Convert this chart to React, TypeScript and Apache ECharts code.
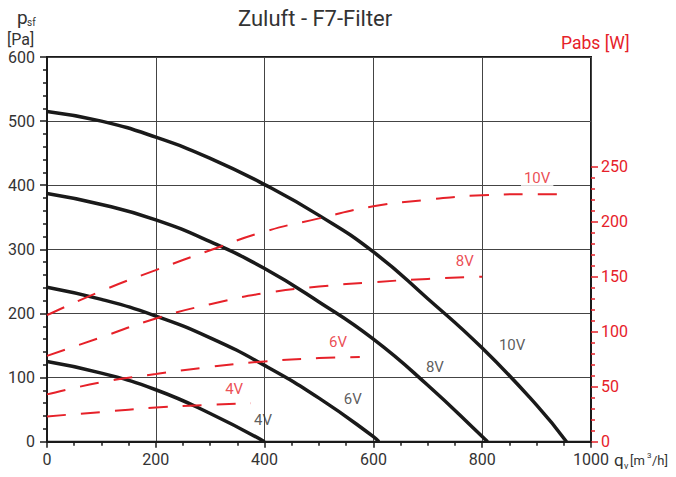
import React, { useEffect, useRef } from "react";
import * as echarts from "echarts";

// Flow rates (m³/h) and static pressure (Pa) per fan voltage
const q10V = [0, 100, 200, 300, 400, 500, 600, 700, 800, 900, 955];
const p10V = [515, 500, 475, 442, 401, 353, 296, 223, 146, 57, 0];
const q8V = [0, 100, 200, 300, 400, 500, 600, 700, 800, 810];
const p8V = [387, 370, 346, 312, 270, 218, 160, 88, 8, 0];
const q6V = [0, 100, 200, 300, 400, 500, 600, 610];
const p6V = [241, 222, 196, 162, 119, 68, 8, 0];
const q4V = [0, 100, 200, 300, 400];
const p4V = [125, 107, 81, 44, 0];

// Absorbed power (W) per fan voltage
const qW10V = [0, 100, 200, 300, 400, 500, 600, 700, 800, 900, 950];
const w10V = [115, 137, 156, 174, 191, 203, 214, 220, 224, 225, 225];
const qW8V = [0, 100, 200, 300, 400, 500, 600, 700, 800];
const w8V = [78, 95, 112, 125, 135, 141, 145, 148, 150];
const qW6V = [0, 100, 200, 300, 400, 500, 575];
const w6V = [43, 54, 61.5, 68, 73, 76, 77];
const qW4V = [0, 100, 200, 300, 375];
const w4V = [23, 27, 31, 33.5, 35];

// Curve label anchors (data units)
const pressureLabels = [
  { name: "4V", q: 397, v: 34 },
  { name: "6V", q: 562, v: 67 },
  { name: "8V", q: 713, v: 117 },
  { name: "10V", q: 855, v: 151 },
];
const powerLabels = [
  { name: "4V", q: 344, v: 48 },
  { name: "6V", q: 535, v: 90.6 },
  { name: "8V", q: 768, v: 164 },
  { name: "10V", q: 901, v: 240 },
];

const title = "Zuluft - F7-Filter";

const RED = "#e62129";
const BLACK = "#1a1a1a";
const FONT = "Roboto";

const zip = (xs: number[], ys: number[]) => xs.map((x, i) => [x, ys[i]]);

export default function App() {
  const ref = useRef<HTMLDivElement>(null);
  useEffect(() => {
    if (!ref.current) return;
    const chart = echarts.init(ref.current, undefined, { renderer: "svg" });

    const pressureLine = (name: string, q: number[], p: number[]) => ({
      type: "line",
      name,
      xAxisIndex: 0,
      yAxisIndex: 0,
      data: zip(q, p),
      smooth: true,
      symbol: "none",
      lineStyle: { color: BLACK, width: 3.5 },
      z: 3,
    });
    const powerLine = (name: string, q: number[], w: number[]) => ({
      type: "line",
      name,
      xAxisIndex: 1,
      yAxisIndex: 1,
      data: zip(q, w),
      smooth: true,
      symbol: "none",
      lineStyle: { color: RED, width: 2, type: [19, 15] },
      z: 4,
    });

    chart.setOption({
      animation: false,
      textStyle: { fontFamily: FONT },
      title: {
        text: title,
        left: 233,
        top: 2,
        textStyle: { fontSize: 22, fontWeight: "normal", color: "#333", fontFamily: FONT },
      },
      grid: [
        {
          left: 47,
          right: 85,
          top: 57,
          bottom: 35.3,
          show: true,
          borderColor: BLACK,
          borderWidth: 2,
        },
        { left: 47, right: 85, top: 166.7, bottom: 35.3 },
      ],
      xAxis: [
        {
          type: "value",
          gridIndex: 0,
          min: 0,
          max: 1000,
          interval: 200,
          axisLine: { show: true, onZero: false, lineStyle: { color: BLACK, width: 2 } },
          axisTick: { show: true, length: 6, lineStyle: { color: BLACK, width: 1.5 } },
          minorTick: { show: true, splitNumber: 4, length: 4, lineStyle: { color: BLACK, width: 1.5 } },
          axisLabel: {
            fontSize: 16,
            color: "#333",
            margin: 10,
            fontFamily: FONT,
            formatter: (v: number) => String(v),
          },
          splitLine: { show: true, lineStyle: { color: "#444", width: 1 } },
        },
        {
          type: "value",
          gridIndex: 1,
          min: 0,
          max: 1000,
          show: false,
        },
      ],
      yAxis: [
        {
          type: "value",
          gridIndex: 0,
          position: "left",
          min: 0,
          max: 600,
          interval: 100,
          axisLine: { show: true, onZero: false, lineStyle: { color: BLACK, width: 2 } },
          axisTick: { show: true, length: 7, lineStyle: { color: BLACK, width: 1.5 } },
          minorTick: { show: true, splitNumber: 5, length: 4, lineStyle: { color: BLACK, width: 1.5 } },
          axisLabel: { fontSize: 16, color: "#333", margin: 12, fontFamily: FONT },
          splitLine: { show: true, lineStyle: { color: "#444", width: 1 } },
        },
        {
          type: "value",
          gridIndex: 1,
          position: "right",
          min: 0,
          max: 250,
          interval: 50,
          axisLine: { show: true, onZero: false, lineStyle: { color: BLACK, width: 2 } },
          axisTick: { show: true, length: 7, lineStyle: { color: RED, width: 1.5 } },
          minorTick: { show: true, splitNumber: 5, length: 4, lineStyle: { color: RED, width: 1.5 } },
          axisLabel: { fontSize: 16, color: RED, margin: 10, fontFamily: FONT },
          splitLine: { show: false },
        },
      ],
      series: [
        pressureLine("10V", q10V, p10V),
        pressureLine("8V", q8V, p8V),
        pressureLine("6V", q6V, p6V),
        pressureLine("4V", q4V, p4V),
        powerLine("P10V", qW10V, w10V),
        powerLine("P8V", qW8V, w8V),
        powerLine("P6V", qW6V, w6V),
        powerLine("P4V", qW4V, w4V),
        {
          type: "scatter",
          xAxisIndex: 0,
          yAxisIndex: 0,
          symbolSize: 0,
          silent: true,
          data: pressureLabels.map((l) => ({ name: l.name, value: [l.q, l.v] })),
          label: {
            show: true,
            position: "inside",
            formatter: "{b}",
            fontSize: 15,
            color: "#333",
            fontFamily: FONT,
          },
          z: 5,
        },
        {
          type: "scatter",
          xAxisIndex: 1,
          yAxisIndex: 1,
          symbolSize: 0,
          silent: true,
          data: powerLabels.map((l) => ({ name: l.name, value: [l.q, l.v] })),
          label: {
            show: true,
            position: "inside",
            formatter: "{b}",
            fontSize: 15,
            color: RED,
            fontFamily: FONT,
            backgroundColor: "#fff",
            padding: [0, 3, 3, 3],
          },
          z: 5,
        },
      ],
      graphic: [
        {
          type: "text",
          left: 17,
          top: 8,
          style: { text: "p", fontSize: 19, fill: "#333", fontFamily: FONT },
        },
        {
          type: "text",
          left: 27,
          top: 17,
          style: { text: "sf", fontSize: 10, fill: "#333", fontFamily: FONT },
        },
        {
          type: "text",
          left: 7,
          top: 31,
          style: { text: "[Pa]", fontSize: 16, fill: "#333", fontFamily: FONT },
        },
        {
          type: "text",
          left: 561,
          top: 34,
          style: { text: "Pabs [W]", fontSize: 17.5, fill: RED, fontFamily: FONT },
        },
        {
          type: "text",
          left: 614,
          top: 451,
          style: { text: "q", fontSize: 17, fill: "#333", fontFamily: FONT },
        },
        {
          type: "text",
          left: 624,
          top: 461,
          style: { text: "v", fontSize: 9, fill: "#333", fontFamily: FONT },
        },
        {
          type: "text",
          left: 630,
          top: 454,
          style: { text: "[m", fontSize: 13, fill: "#333", fontFamily: FONT },
        },
        {
          type: "text",
          left: 647,
          top: 451,
          style: { text: "3", fontSize: 8, fill: "#333", fontFamily: FONT },
        },
        {
          type: "text",
          left: 652,
          top: 454,
          style: { text: "/h]", fontSize: 13, fill: "#333", fontFamily: FONT },
        },
      ],
    });
    return () => chart.dispose();
  }, []);
  return (
    <div
      ref={ref}
      style={{ position: "absolute", left: 0, top: 0, width: 676, height: 477 }}
    />
  );
}
